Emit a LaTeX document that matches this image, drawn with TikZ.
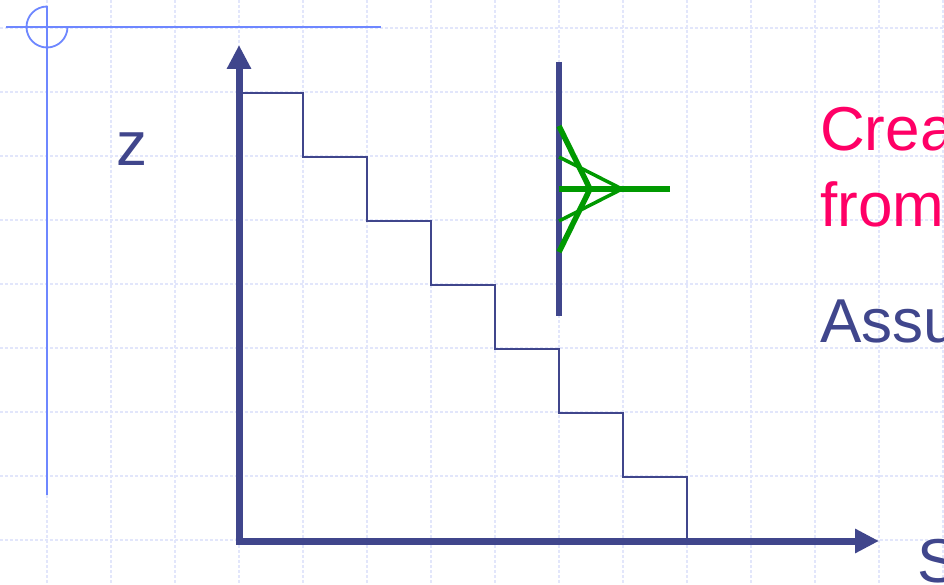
\documentclass[tikz,border=0pt]{standalone}
\usepackage{fontspec}
\setmainfont{Liberation Sans}
\usetikzlibrary{arrows.meta}
\definecolor{axiscol}{RGB}{64,70,140}
\definecolor{gridcol}{RGB}{226,230,251}
\definecolor{crosscol}{RGB}{110,135,255}
\definecolor{redtext}{RGB}{255,0,102}
\definecolor{greencol}{RGB}{0,153,0}
\tikzset{
  gridline/.style={draw=gridcol, line width=1.1pt, dash pattern=on 3pt off 2pt},
  crossline/.style={draw=crosscol, line width=1.8pt},
  axisline/.style={draw=axiscol, line width=7pt, -{Triangle[length=24pt,width=23pt]}},
  stairline/.style={draw=axiscol, line width=2pt, line join=miter},
  wallline/.style={draw=axiscol, line width=6pt},
  thickgreen/.style={draw=greencol, line width=5.5pt},
  thingreen/.style={draw=greencol, line width=3.5pt},
  bigtext/.style={font=\fontsize{62}{70}\selectfont, anchor=base west, inner sep=0pt},
}
\begin{document}
\begin{tikzpicture}[x=1pt,y=-1pt]
\useasboundingbox (0,0) rectangle (944,585);
\clip (0,0) rectangle (944,585);
\fill[white] (0,0) rectangle (944,585);
% grid
\foreach \gx in {47,111,...,943} \draw[gridline] (\gx,0) -- (\gx,585);
\foreach \gy in {28,92,...,560} \draw[gridline] (0,\gy) -- (944,\gy);
% crosshair
\coordinate (cc) at (47,27);
\draw[crossline] (6,27) -- (381,27);
\draw[crossline] (47,6) -- (47,495);
\draw[crossline] (cc) ++(0,-20.5) arc[start angle=-90, end angle=-360, radius=20.5];
% axes
\coordinate (o) at (239,541);
\coordinate (ytip) at (239,45);
\coordinate (xtip) at (879,541);
\draw[axisline] ([yshift=3.5pt]o) -- (ytip);
\draw[axisline] ([xshift=-3.5pt]o) -- (xtip);
% staircase
\draw[stairline] (243,93) -- (303,93) -- (303,157) -- (367,157) -- (367,221) -- (431,221)
  -- (431,285) -- (495,285) -- (495,349) -- (559,349) -- (559,413) -- (623,413)
  -- (623,477) -- (687,477) -- (687,541);
% wall
\draw[wallline] (559,62) -- (559,316);
% green
\coordinate (g1) at (590,189);
\coordinate (g2) at (622,189);
\draw[thickgreen] (559,189) -- (670,189);
\draw[thickgreen, line join=miter] (559,126) -- (g1) -- (559,252);
\draw[thingreen, line join=miter] (559,157) -- (g2) -- (559,221);
% texts
\node[bigtext, text=axiscol] (z) at (116,166) {z};
\node[bigtext, text=redtext] (t1) at (820,151) {Crea};
\node[bigtext, text=redtext] (t2) at (820,227) {from};
\node[bigtext, text=axiscol] (t3) at (820,342) {Assu};
\node[bigtext, text=axiscol] (t4) at (917,582) {S};
\end{tikzpicture}
\end{document}
